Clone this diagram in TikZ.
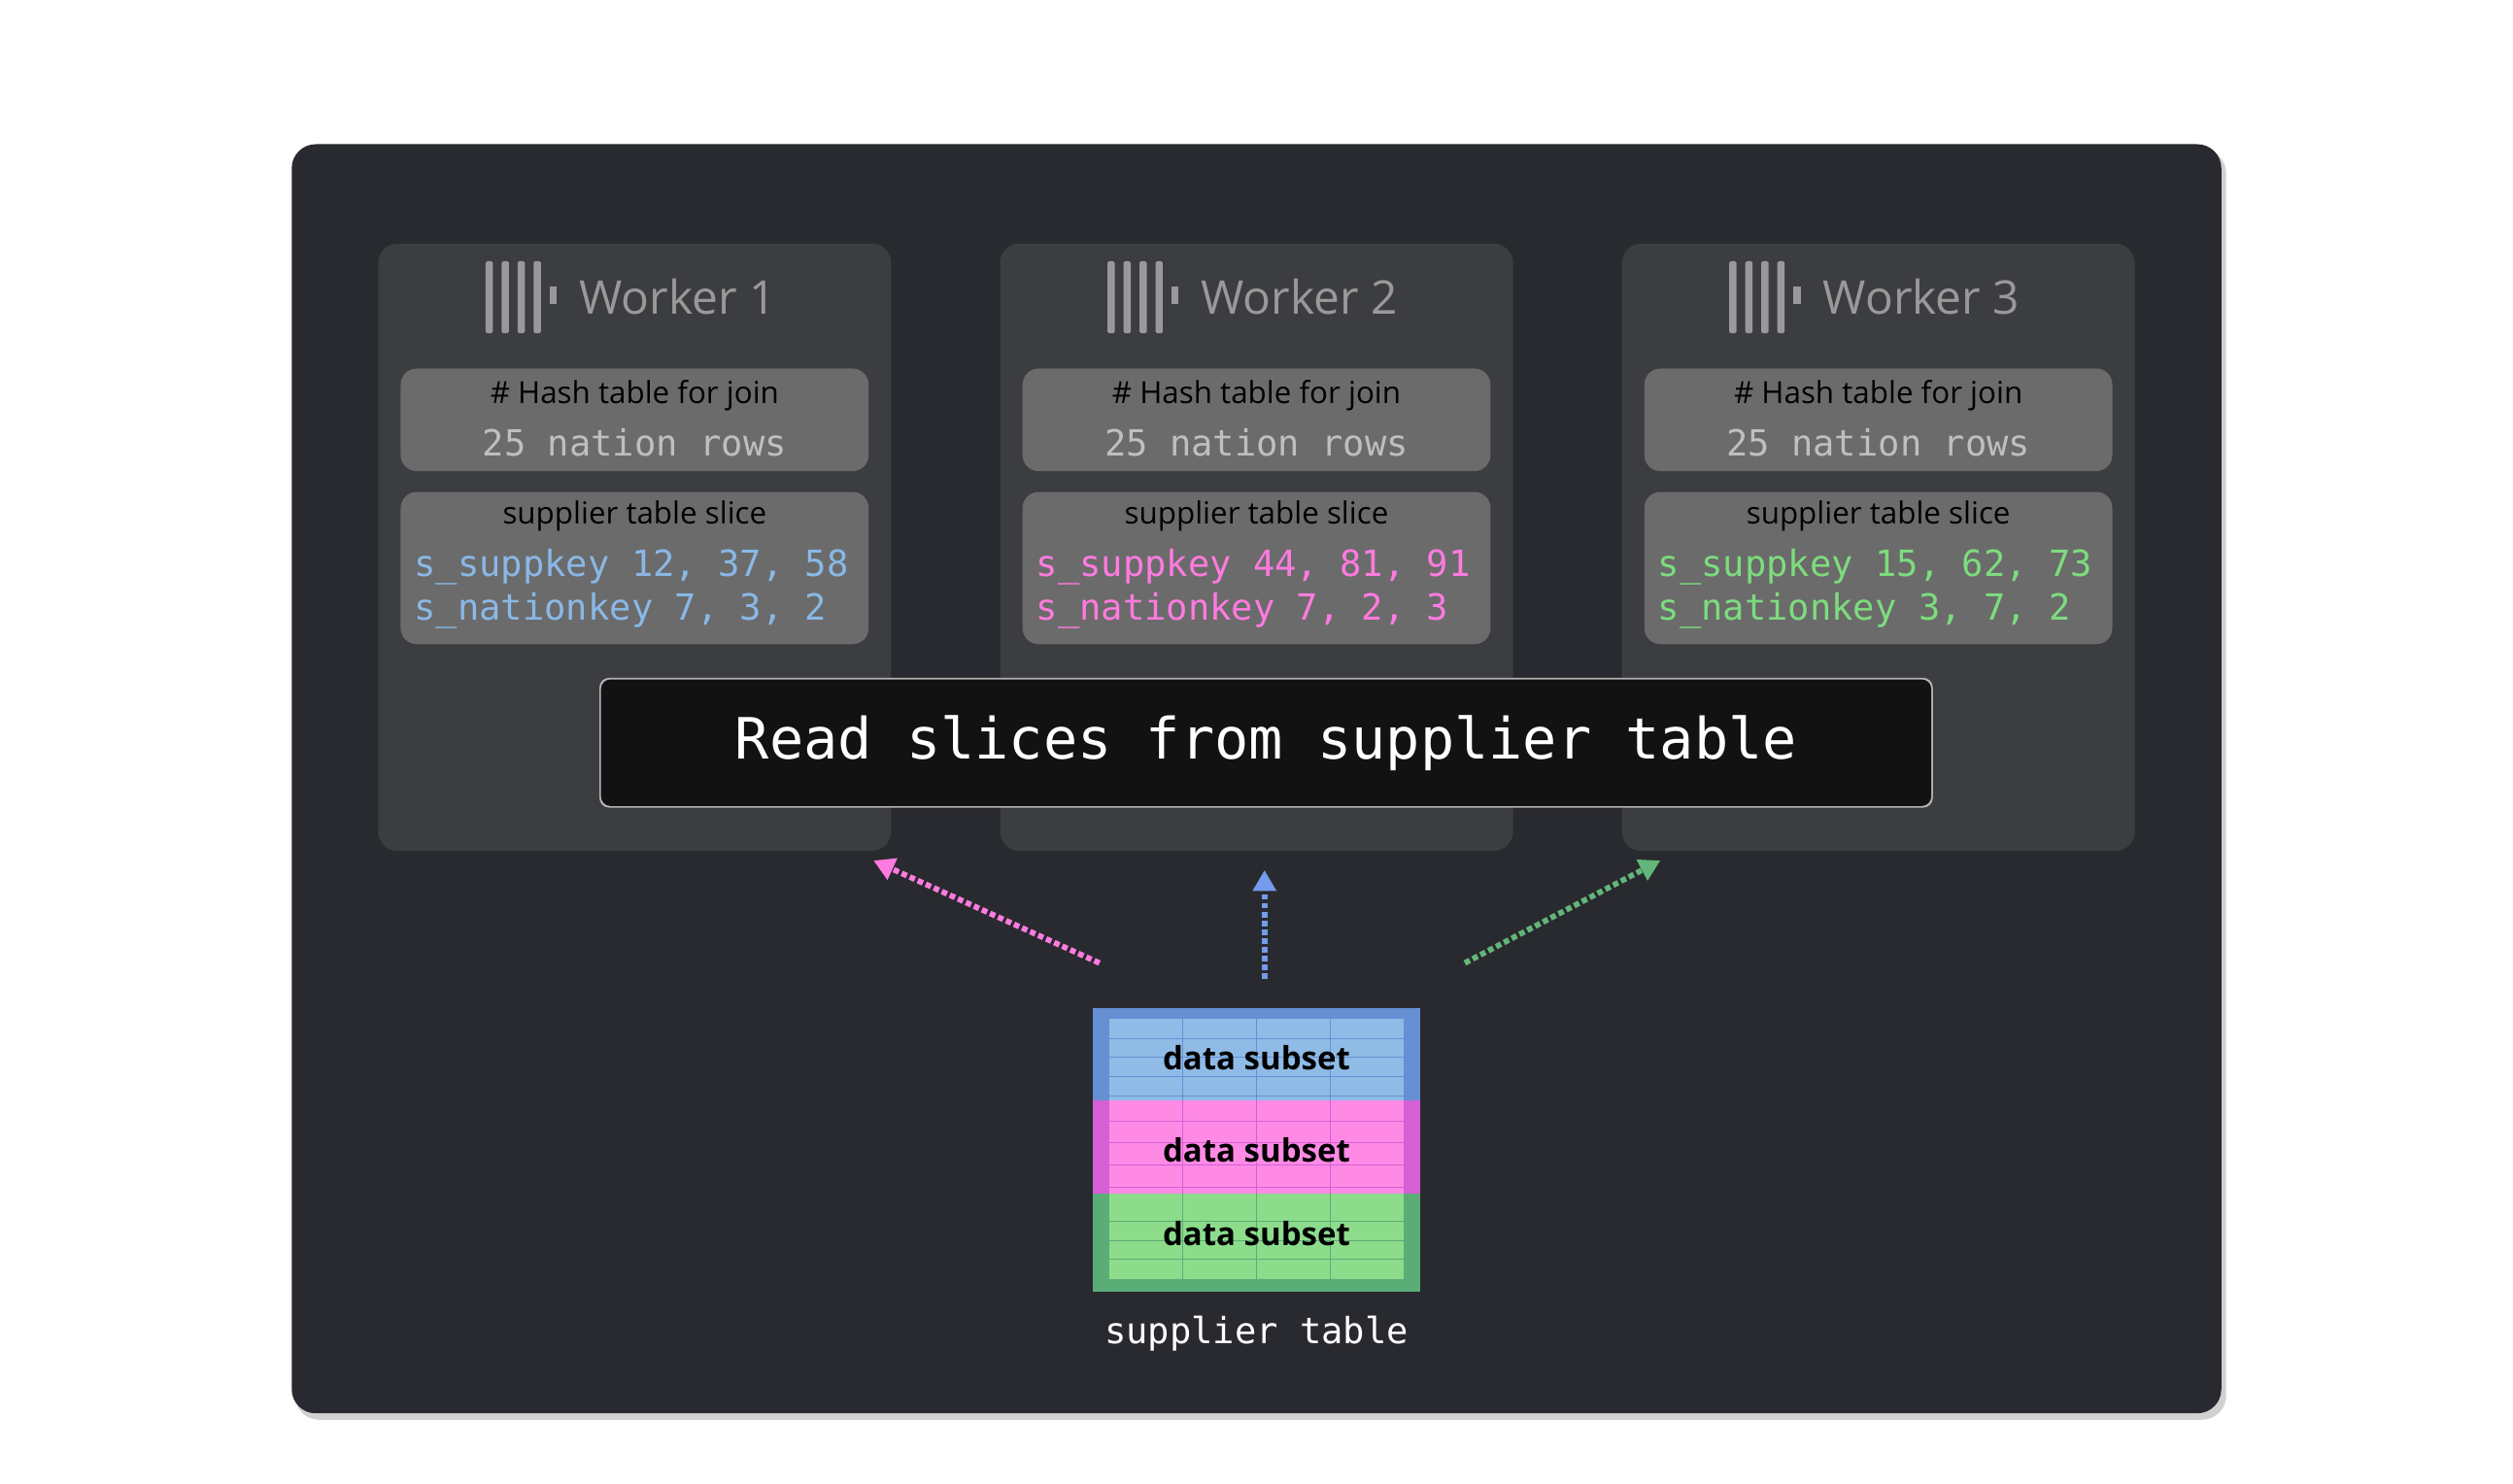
\documentclass[tikz,border=0pt]{standalone}
\usepackage{fontspec}
\setmainfont{Open Sans}
\setmonofont{DejaVu Sans Mono}
\usetikzlibrary{arrows.meta}
\definecolor{bgpanel}{HTML}{292A2F}
\definecolor{wbox}{HTML}{3C3D40}
\definecolor{ibox}{HTML}{6B6B6B}
\definecolor{cblue}{HTML}{8AB8E6}
\definecolor{cpink}{HTML}{FF7BE0}
\definecolor{cgreen}{HTML}{7DDC7D}
\definecolor{tblueI}{HTML}{8FBBE6}
\definecolor{tblueO}{HTML}{6690D4}
\definecolor{tpinkI}{HTML}{FF8AE6}
\definecolor{tpinkO}{HTML}{D65FD6}
\definecolor{tgreenI}{HTML}{8CDC8C}
\definecolor{tgreenO}{HTML}{5BAD78}
\tikzset{
  worker/.style={fill=wbox,rounded corners=12pt},
  inner/.style={fill=ibox,rounded corners=10pt},
  wtitle/.style={text=black!40,font=\fontsize{29}{33}\selectfont,anchor=west},
  htext/.style={text=black,font=\fontsize{19}{22}\selectfont},
  mono/.style={font=\ttfamily\fontsize{22.5}{26}\selectfont},
  arr/.style={line width=3.5pt,dotted,-{Triangle[length=13pt,width=14pt]}},
  sub/.style={font=\bfseries\fontsize{20}{23}\selectfont,text=black}
}
\begin{document}
\begin{tikzpicture}[x=1pt,y=-1pt]
\useasboundingbox (0,0) rectangle (1568,926);
\fill[white] (0,0) rectangle (1568,926);
\fill[black!18,rounded corners=15pt] (184,93) rectangle (1389,886);
\fill[bgpanel,rounded corners=15pt] (182,90) rectangle (1386,882);
\foreach \i/\x/\c/\a/\b/\p/\q/\r/\s in {1/236/cblue/12/37/58/7/3/2,2/624/cpink/44/81/91/7/2/3,3/1012/cgreen/15/62/73/3/7/2}{
  \fill[worker] (\x,152) rectangle ++(320,379);
  \foreach \k in {0,10,20,30}{\fill[black!40,rounded corners=1pt] (\x+67+\k,163) rectangle ++(4.5,45);}
  \fill[black!40] (\x+107,179) rectangle ++(4.5,11);
  \node[wtitle] (w\i) at (\x+122,185) {Worker \i};
  \fill[inner] (\x+14,230) rectangle ++(292,64);
  \node[htext] (h\i) at (\x+160,247) {\# Hash table for join};
  \node[mono,text=black!25] (n\i) at (\x+160,276) {25 nation rows};
  \fill[inner] (\x+14,307) rectangle ++(292,95);
  \node[htext] (s\i) at (\x+160,322) {supplier table slice};
  \node[mono,text=\c,anchor=west] (k\i) at (\x+19,354) {s\_suppkey \a, \b, \p};
  \node[mono,text=\c,anchor=west] (m\i) at (\x+19,381) {s\_nationkey \q, \r, \s};
}
\fill[black!30,rounded corners=6pt] (374,423) rectangle (1206,504);
\node[fill=black!93,rounded corners=6pt,minimum width=830pt,minimum height=79pt,text=white,font=\ttfamily\fontsize{35.5}{40}\selectfont] (banner) at (790,463.5) {Read slices from supplier table};
% table
\foreach \y/\o/\h in {629/tblueO/58,687/tpinkO/58,745/tgreenO/61}{
  \fill[\o] (682,\y) rectangle ++(204,\h);
}
\fill[tblueI] (692,636) rectangle (876,687);
\fill[tpinkI] (692,687) rectangle (876,745);
\fill[tgreenI] (692,745) rectangle (876,798);
\foreach \xx in {738,784,830}{
  \draw[tblueO,line width=0.6pt] (\xx,636)--(\xx,687);
  \draw[tpinkO,line width=0.6pt] (\xx,687)--(\xx,745);
  \draw[tgreenO,line width=0.6pt] (\xx,745)--(\xx,798);}
\foreach \yy in {648,660,672,684}{\draw[tblueO,line width=0.6pt] (692,\yy)--(876,\yy);}
\foreach \yy in {700,713,727,741}{\draw[tpinkO,line width=0.6pt] (692,\yy)--(876,\yy);}
\foreach \yy in {762,774,786}{\draw[tgreenO,line width=0.6pt] (692,\yy)--(876,\yy);}
\node[sub] (d1) at (784,660) {data subset};
\node[sub] (d2) at (784,718) {data subset};
\node[sub] (d3) at (784,770) {data subset};
\node[mono,text=white] (tl) at (784,832) {supplier table};
\coordinate (a1) at (686,601); \coordinate (b1) at (545,537);
\coordinate (a2) at (789,611); \coordinate (b2) at (789,543);
\coordinate (a3) at (914,601); \coordinate (b3) at (1036,537);
\draw[arr,cpink] (a1)--(b1);
\draw[arr,cblue!85!blue] (a2)--(b2);
\draw[arr,tgreenO!80!cgreen] (a3)--(b3);
\end{tikzpicture}
\end{document}
